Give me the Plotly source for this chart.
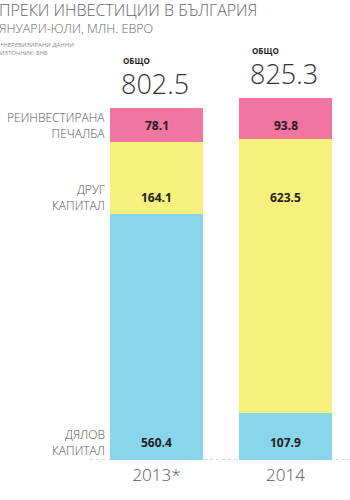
import plotly.graph_objects as go

# Foreign direct investment in Bulgaria, Jan-Jul, million EUR
years = ["2013*", "2014"]
equity = [560.4, 107.9]          # ДЯЛОВ КАПИТАЛ
other_capital = [164.1, 623.5]   # ДРУГ КАПИТАЛ
reinvested = [78.1, 93.8]        # РЕИНВЕСТИРАНА ПЕЧАЛБА
totals = [802.5, 825.3]

series_names = ["ДЯЛОВ<br>КАПИТАЛ", "ДРУГ<br>КАПИТАЛ", "РЕИНВЕСТИРАНА<br>ПЕЧАЛБА"]
series_values = [equity, other_capital, reinvested]
series_colors = ["#89D5EB", "#F8F07C", "#F075A0"]

W, H = 350, 500
BOTTOM = 40
FONT = "Open Sans"
GREY = "#555555"

x_pos = list(range(len(years)))

fig = go.Figure()
for vals, color, name in zip(series_values, series_colors, series_names):
    fig.add_trace(go.Bar(
        x=x_pos, y=vals, name=name, marker=dict(color=color, line=dict(width=0)),
        width=0.721, hoverinfo="skip", showlegend=False,
    ))

annotations = []


def paper_y(px):
    """Convert a pixel row (from the top) to paper y of the plot area."""
    return (H - BOTTOM - px) / (H - BOTTOM)


# value rows shared by the row labels on the left and the bar values
row_y = [paper_y(442), paper_y(197), paper_y(126)]

for name, vals, ry in zip(series_names, series_values, row_y):
    annotations.append(dict(
        x=107 / W, y=ry, xref="paper", yref="paper", text=name,
        xanchor="right", yanchor="middle", align="right", showarrow=False,
        font=dict(family=FONT, size=12, color=GREY, weight=300),
    ))
    for xi, v in zip(x_pos, vals):
        annotations.append(dict(
            x=xi, y=ry, xref="x", yref="paper", text=f"{v:.1f}",
            xanchor="center", yanchor="middle", showarrow=False,
            font=dict(family=FONT, size=12, color="#222222", weight=700),
        ))

# totals above the bars
for xi, t in zip(x_pos, totals):
    annotations.append(dict(
        x=xi, y=t, xref="x", yref="y", text=f"{t:.1f}",
        xanchor="center", yanchor="bottom", yshift=5, xshift=-2, showarrow=False,
        borderpad=0, font=dict(family=FONT, size=27, color="#333333", weight=300),
    ))
    annotations.append(dict(
        x=xi, y=t, xref="x", yref="y", text="ОБЩО",
        xanchor="left", yanchor="bottom", yshift=41, xshift=-35, showarrow=False,
        borderpad=0, font=dict(family=FONT, size=8, color="#222222", weight=700),
    ))

# title block
annotations += [
    dict(x=0, y=1, xref="paper", yref="paper", text="ПРЕКИ ИНВЕСТИЦИИ В БЪЛГАРИЯ",
         xanchor="left", yanchor="top", xshift=-2, yshift=2, showarrow=False,
         borderpad=0, font=dict(family=FONT, size=16, color="#666666", weight=300)),
    dict(x=0, y=1, xref="paper", yref="paper", text="ЯНУАРИ-ЮЛИ, МЛН. ЕВРО",
         xanchor="left", yanchor="top", xshift=-2, yshift=-19, showarrow=False,
         borderpad=0, font=dict(family=FONT, size=12.5, color="#666666", weight=300)),
    dict(x=0, y=1, xref="paper", yref="paper", text="*НЕРЕВИЗИРАНИ ДАННИ<br>ИЗТОЧНИК: БНБ",
         xanchor="left", yanchor="top", align="left", xshift=-1, yshift=-40, showarrow=False,
         borderpad=0, font=dict(family=FONT, size=6, color="#888888")),
]

fig.update_layout(
    width=W, height=H, barmode="stack", bargap=0,
    margin=dict(l=0, r=0, t=0, b=BOTTOM),
    paper_bgcolor="white", plot_bgcolor="white",
    xaxis=dict(range=[-156.5 / 129, 193.5 / 129], tickmode="array", tickvals=x_pos,
               ticktext=years, showgrid=False, zeroline=False, showline=False,
               ticks="", ticklabelstandoff=3,
               tickfont=dict(family=FONT, size=17, color="#555555", weight=300),
               fixedrange=True),
    yaxis=dict(range=[0, 460 * 802.5 / 352], showgrid=False, zeroline=False,
               showticklabels=False, showline=False, fixedrange=True),
    annotations=annotations,
    shapes=[dict(type="line", xref="paper", yref="y", x0=90 / W, x1=1, y0=0, y1=0,
                 line=dict(color="#aaaaaa", width=1, dash="dot"), layer="below")],
)

fig.write_html("out.html", config={"displayModeBar": False})
